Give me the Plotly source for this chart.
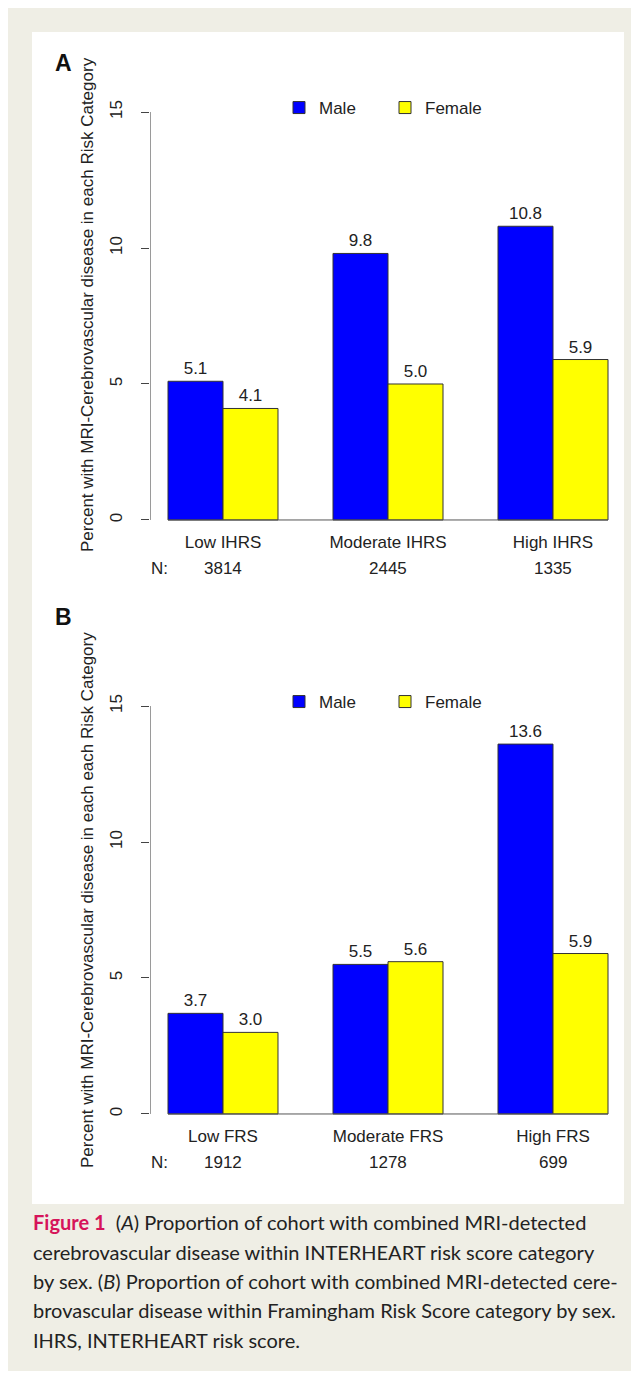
import plotly.graph_objects as go

# The page body has an 8px margin, so the figure is sized/offset to compensate.
OFF = 8
W, H = 639 - OFF, 1373 - OFF

def px(x):
    return (x - OFF) / W

def py(y):
    return 1 - (y - OFF) / H

# ---------------- data ----------------
sexes = ["Male", "Female"]
colors = ["#0000ff", "#ffff00"]

cats_a = ["Low IHRS", "Moderate IHRS", "High IHRS"]
male_a = [5.1, 9.8, 10.8]
female_a = [4.1, 5.0, 5.9]
n_a = ["3814", "2445", "1335"]

cats_b = ["Low FRS", "Moderate FRS", "High FRS"]
male_b = [3.7, 5.5, 13.6]
female_b = [3.0, 5.6, 5.9]
n_b = ["1912", "1278", "699"]

yticks = [0, 5, 10, 15]

title_a = "Percent with MRI-Cerebrovascular disease in each Risk Category"
title_b = "Percent with MRI-Cerebrovascular disease in each each Risk Category"

caption_lines = [
    "<b><span style='color:#d6145a'>Figure 1</span></b>  (<i>A</i>) Proportion of cohort with combined MRI-detected",
    "cerebrovascular disease within INTERHEART risk score category",
    "by sex. (<i>B</i>) Proportion of cohort with combined MRI-detected cere-",
    "brovascular disease within Framingham Risk Score category by sex.",
    "IHRS, INTERHEART risk score.",
]

# ---------------- layout constants ----------------
FONT = "Liberation Sans, Arial, sans-serif"
TXT = "#222222"
XR = [0.68, 9.32]          # R barplot-like range for bars at 1..9
YR = [-0.6, 15.6]
x_dom = [px(150.4), px(625.6)]
panels = [
    dict(cats=cats_a, male=male_a, female=female_a, n=n_a, title=title_a,
         ydom=[py(536.3), py(95.7)], letter="A", letter_y=63, title_y=305,
         legend_y=108, cat_axis_y=530, n_y=568),
    dict(cats=cats_b, male=male_b, female=female_b, n=n_b, title=title_b,
         ydom=[py(1130.3), py(689.7)], letter="B", letter_y=617, title_y=900,
         legend_y=702, cat_axis_y=1124, n_y=1162),
]

fig = go.Figure()
shapes = []
annotations = []

# page background
shapes.append(dict(type="rect", xref="paper", yref="paper", layer="below",
                   x0=px(7), x1=px(632), y0=py(1371), y1=py(8),
                   fillcolor="#efeee5", line=dict(width=0)))
shapes.append(dict(type="rect", xref="paper", yref="paper", layer="below",
                   x0=px(32), x1=px(624), y0=py(1204), y1=py(32),
                   fillcolor="#ffffff", line=dict(width=0)))

for k, p in enumerate(panels):
    sfx = "" if k == 0 else str(k + 1)
    xa, ya = "x" + sfx, "y" + sfx
    leg = "legend" + sfx
    ng = len(p["cats"])
    for s, (sex, col, vals) in enumerate(zip(sexes, colors, [p["male"], p["female"]])):
        xs = [3 * i + 1.5 + s for i in range(ng)]
        fig.add_trace(go.Bar(
            x=xs, y=vals, width=1, name=sex,
            marker=dict(color=col, line=dict(color="#333333", width=1)),
            texttemplate="%{y:.1f}", textposition="outside",
            textfont=dict(family=FONT, size=17, color=TXT),
            constraintext="none", cliponaxis=False,
            xaxis=xa, yaxis=ya, legend=leg, hoverinfo="skip",
        ))
    centers = [3 * i + 2 for i in range(ng)]
    fig.update_layout(**{
        "xaxis" + sfx: dict(domain=x_dom, range=XR, anchor="free",
                            position=py(p["cat_axis_y"]),
                            tickmode="array", tickvals=centers, ticktext=p["cats"],
                            ticks="", showline=False, showgrid=False, zeroline=False,
                            tickfont=dict(family=FONT, size=17, color=TXT)),
        "yaxis" + sfx: dict(domain=p["ydom"], range=YR, anchor=xa,
                            tickmode="array", tickvals=yticks,
                            ticks="outside", ticklen=8, tickcolor="#444444",
                            tickangle=-90, showline=False, showgrid=False,
                            zeroline=False, ticklabelstandoff=13,
                            tickfont=dict(family=FONT, size=17, color=TXT)),
        leg: dict(orientation="h", x=px(279), y=py(p["legend_y"]),
                  xanchor="left", yanchor="middle", bgcolor="rgba(0,0,0,0)",
                  font=dict(family=FONT, size=17, color=TXT),
                  entrywidth=61, entrywidthmode="pixels"),
    })
    # y axis line from 0 to 15 and baseline under bars
    shapes.append(dict(type="line", xref=xa, yref=ya, x0=XR[0], x1=XR[0],
                       y0=yticks[0], y1=yticks[-1], line=dict(color="#444444", width=1)))
    shapes.append(dict(type="line", xref=xa, yref=ya, x0=1, x1=3 * ng,
                       y0=0, y1=0, line=dict(color="#555555", width=1)))
    # N row
    annotations.append(dict(xref="paper", yref="paper", x=px(149), y=py(p["n_y"]),
                            text="N:", showarrow=False, xanchor="left", yanchor="middle",
                            font=dict(family=FONT, size=17, color=TXT)))
    for c, nv in zip(centers, p["n"]):
        annotations.append(dict(xref=xa, yref="paper", x=c, y=py(p["n_y"]),
                                text=nv, showarrow=False, xanchor="center",
                                yanchor="middle",
                                font=dict(family=FONT, size=17, color=TXT)))
    # y title
    annotations.append(dict(xref="paper", yref="paper", x=px(87), y=py(p["title_y"]),
                            text=p["title"], textangle=-90, showarrow=False,
                            xanchor="center", yanchor="middle",
                            font=dict(family=FONT, size=17, color=TXT)))
    # panel letter
    annotations.append(dict(xref="paper", yref="paper", x=px(63), y=py(p["letter_y"]),
                            text="<b>" + p["letter"] + "</b>", showarrow=False,
                            xanchor="center", yanchor="middle",
                            font=dict(family=FONT, size=23, color="#111111")))

# caption
cap_y = [1222, 1252, 1281, 1310, 1340]
for line, yy in zip(caption_lines, cap_y):
    annotations.append(dict(xref="paper", yref="paper", x=px(31), y=py(yy),
                            text=line, showarrow=False, xanchor="left",
                            yanchor="middle",
                            font=dict(family="Lato, sans-serif", size=20, color="#222222")))

fig.update_layout(
    width=W, height=H, margin=dict(l=0, r=0, t=0, b=0),
    paper_bgcolor="#ffffff", plot_bgcolor="rgba(0,0,0,0)",
    barmode="overlay", shapes=shapes, annotations=annotations,
    font=dict(family=FONT, color=TXT),
)

fig.write_html("out.html")
